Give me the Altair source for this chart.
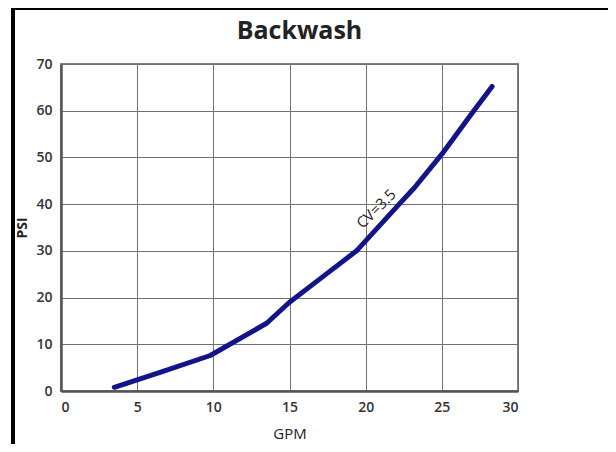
import altair as alt
import pandas as pd

# Curve
gpm = [3.5, 6.5, 9.8, 13.5, 15.0, 17.0, 19.4, 22.2, 23.2, 25.0, 27.1, 28.3]
psi = [0.8, 4.0, 7.6, 14.5, 19.0, 24.0, 30.0, 40.0, 43.5, 50.7, 60.0, 65.2]

label_text = ["CV=3.5"]
label_gpm = [20.7]
label_psi = [39.0]

x_ticks = [0, 5, 10, 15, 20, 25, 30]
y_ticks = [0, 10, 20, 30, 40, 50, 60, 70]

df = pd.DataFrame({"GPM": gpm, "PSI": psi})
lab = pd.DataFrame({"GPM": label_gpm, "PSI": label_psi, "t": label_text})

FONT = "Open Sans"

x_enc = alt.X("GPM:Q", scale=alt.Scale(domain=[0, 30], nice=False),
              axis=alt.Axis(values=x_ticks, title="GPM", titleFontSize=15,
                            titleFontWeight=500, titlePadding=12))
y_enc = alt.Y("PSI:Q", scale=alt.Scale(domain=[0, 70], nice=False),
              axis=alt.Axis(values=y_ticks, title="PSI", titleFontSize=14,
                            titleFontWeight="bold", titlePadding=6))

line = alt.Chart(df).mark_line(color="#14148a", strokeWidth=5, strokeCap="round",
                               strokeJoin="round").encode(x=x_enc, y=y_enc)

text = alt.Chart(lab).mark_text(angle=315, fontSize=15, color="#222222", font=FONT).encode(
    x="GPM:Q", y="PSI:Q", text="t:N")

frame_left = alt.Chart(df).mark_rule(color="black", strokeWidth=3, clip=False).encode(
    x=alt.value(-48), y=alt.value(-56), y2=alt.value(400))
frame_top = alt.Chart(df).mark_rule(color="black", strokeWidth=3, clip=False).encode(
    x=alt.value(-49), x2=alt.value(560), y=alt.value(-56))

chart = alt.layer(line, text, frame_left, frame_top).properties(
    width=457, height=327,
    title=alt.TitleParams("Backwash", fontSize=25, fontWeight="bold", font=FONT,
                          color="#222222", dx=10, offset=-37),
    autosize=alt.AutoSizeParams(type="none"),
    padding={"left": 53, "top": 56, "right": 90, "bottom": 53},
    background="white",
).configure_view(stroke="#808080", strokeWidth=2).configure_axis(
    grid=True, gridColor="#707070", gridWidth=1, gridOpacity=1,
    domainColor="#555555", domainWidth=2.5, ticks=False,
    labelFont=FONT, titleFont=FONT, labelFontSize=14, labelColor="#333333",
    titleColor="#222222", labelPadding=9, labelFontWeight=600,
)

chart.save("out.html", embed_options={"renderer": "svg", "actions": False})
